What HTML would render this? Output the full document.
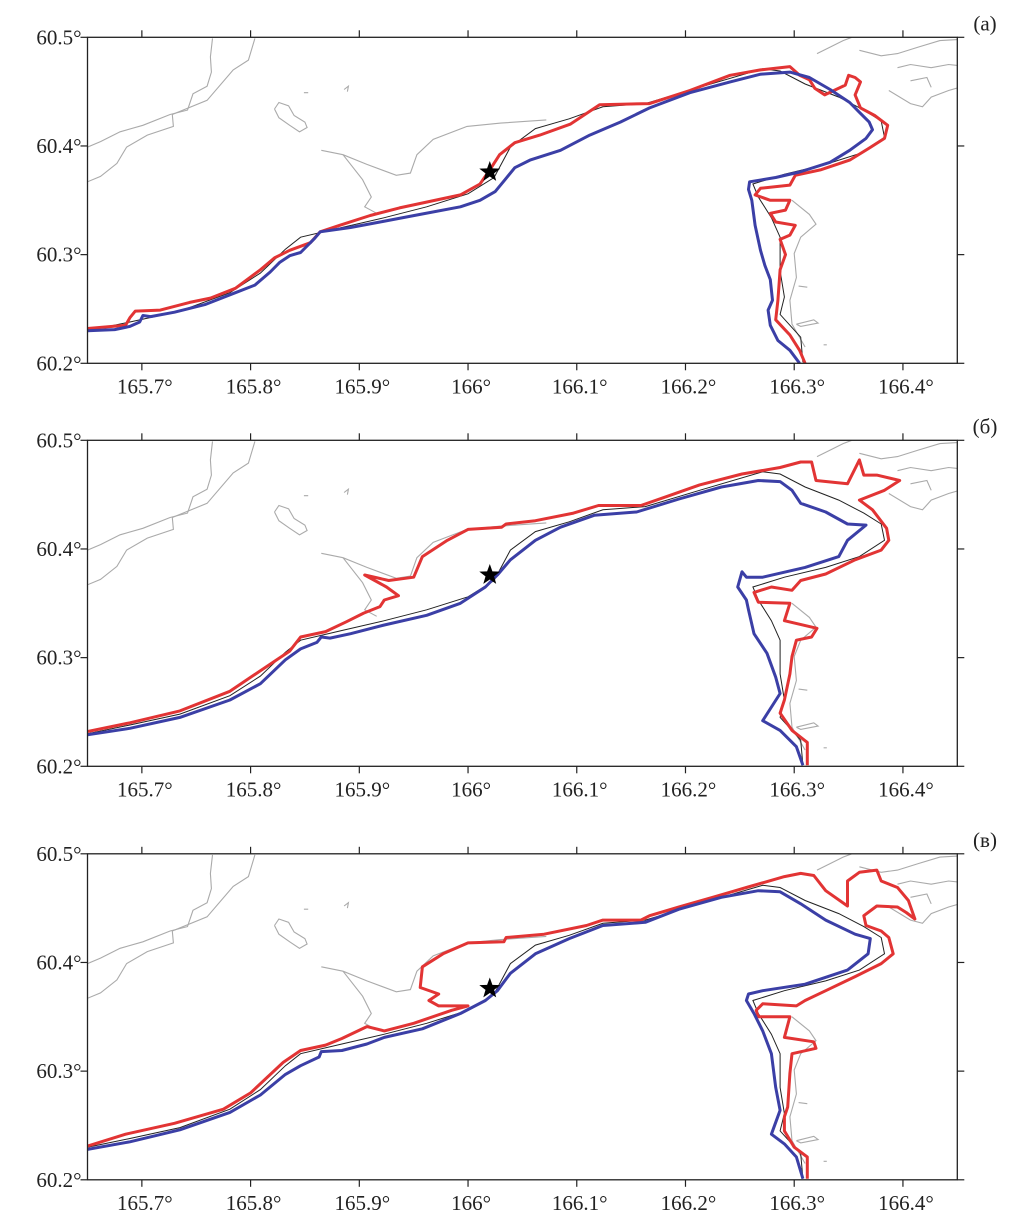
<!DOCTYPE html>
<html><head><meta charset="utf-8"><style>
body{margin:0;background:#fff}
svg{display:block}
text{font-family:"Liberation Serif","Times New Roman",serif;font-size:21px;fill:#222}
</style></head><body>
<svg id="fig" width="1030" height="1225" viewBox="0 0 1030 1225" xmlns="http://www.w3.org/2000/svg" font-family="Liberation Serif, serif"></svg>
<script>
const lonTicks=[165.7,165.8,165.9,166.0,166.1,166.2,166.3,166.4];
const lonLabels=["165.7°","165.8°","165.9°","166°","166.1°","166.2°","166.3°","166.4°"];
const latTicks=[60.2,60.3,60.4,60.5];
const latLabels=["60.2°","60.3°","60.4°","60.5°"];
const panelLabels=["(a)","(б)","(в)"];
const star=[166.02,60.376];
const coast=[[165.650,60.230],[165.689,60.238],[165.735,60.248],[165.781,60.265],[165.809,60.283],[165.832,60.305],[165.846,60.316],[165.884,60.325],[165.923,60.334],[165.962,60.344],[166.000,60.356],[166.024,60.371],[166.039,60.399],[166.062,60.416],[166.093,60.425],[166.124,60.436],[166.163,60.439],[166.213,60.454],[166.271,60.471],[166.287,60.469],[166.310,60.457],[166.341,60.445],[166.364,60.433],[166.380,60.423],[166.383,60.408],[166.360,60.393],[166.329,60.383],[166.291,60.374],[166.262,60.365],[166.267,60.353],[166.279,60.334],[166.287,60.316],[166.287,60.285],[166.291,60.261],[166.287,60.245],[166.306,60.224],[166.308,60.201]];
const land=[
[[165.650,60.399],[165.662,60.404],[165.680,60.413],[165.701,60.419],[165.726,60.429],[165.742,60.433],[165.747,60.448],[165.760,60.455],[165.764,60.468],[165.763,60.482],[165.765,60.499]],
[[165.650,60.367],[165.662,60.372],[165.677,60.384],[165.686,60.399],[165.705,60.410],[165.729,60.418],[165.728,60.429],[165.760,60.442],[165.784,60.470],[165.798,60.479],[165.804,60.499]],
[[165.822,60.434],[165.826,60.440],[165.835,60.437],[165.840,60.428],[165.850,60.422],[165.852,60.417],[165.845,60.413],[165.836,60.419],[165.826,60.426],[165.822,60.434]],
[[165.865,60.396],[165.885,60.392],[165.907,60.383],[165.934,60.373],[165.947,60.375],[165.953,60.392],[165.968,60.406],[165.999,60.418],[166.030,60.421],[166.072,60.424]],
[[165.885,60.392],[165.903,60.369],[165.911,60.353],[165.905,60.344],[165.916,60.338]],
[[165.886,60.452],[165.890,60.455],[165.889,60.450]],
[[165.849,60.449],[165.853,60.449]],
[[166.321,60.485],[166.333,60.491],[166.345,60.497],[166.353,60.500]],
[[166.360,60.488],[166.380,60.483],[166.395,60.485],[166.414,60.491],[166.434,60.497],[166.452,60.498]],
[[166.395,60.472],[166.407,60.475],[166.426,60.472],[166.442,60.475],[166.452,60.474]],
[[166.387,60.451],[166.407,60.439],[166.418,60.436],[166.426,60.445],[166.442,60.451],[166.452,60.454]],
[[166.407,60.460],[166.422,60.463],[166.426,60.454]],
[[166.298,60.350],[166.314,60.337],[166.320,60.328],[166.306,60.316],[166.300,60.301],[166.302,60.279],[166.296,60.258],[166.298,60.236],[166.310,60.215]],
[[166.304,60.271],[166.312,60.270]],
[[166.302,60.236],[166.318,60.240],[166.322,60.237],[166.306,60.234],[166.302,60.236]],
[[166.327,60.217],[166.330,60.217]]
];
const redA=[[165.650,60.232],[165.685,60.235],[165.689,60.242],[165.694,60.248],[165.717,60.249],[165.744,60.256],[165.763,60.260],[165.786,60.269],[165.809,60.286],[165.822,60.297],[165.836,60.304],[165.855,60.311],[165.864,60.321],[165.882,60.327],[165.910,60.336],[165.937,60.343],[165.965,60.349],[165.993,60.355],[166.011,60.365],[166.020,60.378],[166.029,60.392],[166.043,60.403],[166.066,60.410],[166.094,60.420],[166.121,60.438],[166.167,60.439],[166.204,60.451],[166.241,60.465],[166.269,60.470],[166.296,60.473],[166.305,60.465],[166.314,60.461],[166.319,60.453],[166.328,60.447],[166.347,60.456],[166.350,60.465],[166.356,60.463],[166.361,60.459],[166.356,60.447],[166.361,60.435],[166.374,60.428],[166.386,60.419],[166.383,60.407],[166.369,60.398],[166.351,60.387],[166.324,60.378],[166.301,60.373],[166.296,60.364],[166.269,60.361],[166.264,60.355],[166.278,60.350],[166.296,60.350],[166.292,60.341],[166.278,60.338],[166.283,60.330],[166.301,60.327],[166.296,60.318],[166.287,60.314],[166.292,60.300],[166.287,60.286],[166.285,60.258],[166.283,60.240],[166.296,60.226],[166.305,60.212],[166.310,60.200]];
const blueA=[[165.650,60.230],[165.675,60.231],[165.689,60.234],[165.698,60.238],[165.701,60.244],[165.708,60.243],[165.730,60.247],[165.758,60.254],[165.786,60.265],[165.804,60.272],[165.818,60.284],[165.827,60.293],[165.836,60.299],[165.846,60.302],[165.859,60.315],[165.864,60.321],[165.892,60.325],[165.919,60.330],[165.956,60.337],[165.993,60.344],[166.011,60.350],[166.025,60.358],[166.034,60.369],[166.043,60.380],[166.057,60.387],[166.085,60.396],[166.112,60.410],[166.140,60.422],[166.167,60.435],[166.204,60.449],[166.241,60.459],[166.269,60.466],[166.296,60.468],[166.314,60.463],[166.333,60.452],[166.351,60.440],[166.360,60.431],[166.369,60.422],[166.372,60.415],[166.366,60.407],[166.351,60.396],[166.333,60.385],[166.305,60.376],[166.283,60.371],[166.259,60.367],[166.258,60.360],[166.261,60.350],[166.264,60.327],[166.269,60.304],[166.273,60.290],[166.278,60.277],[166.280,60.258],[166.276,60.249],[166.278,60.235],[166.285,60.221],[166.296,60.212],[166.305,60.200]];
const redB=[[165.650,60.232],[165.689,60.240],[165.735,60.251],[165.781,60.269],[165.809,60.288],[165.836,60.306],[165.846,60.319],[165.869,60.324],[165.888,60.333],[165.904,60.341],[165.919,60.347],[165.923,60.353],[165.936,60.357],[165.925,60.365],[165.905,60.376],[165.927,60.371],[165.950,60.374],[165.958,60.393],[165.981,60.408],[166.000,60.418],[166.031,60.420],[166.035,60.423],[166.062,60.426],[166.097,60.433],[166.120,60.440],[166.159,60.440],[166.182,60.448],[166.213,60.459],[166.252,60.469],[166.287,60.475],[166.306,60.480],[166.316,60.480],[166.320,60.463],[166.349,60.460],[166.360,60.482],[166.364,60.468],[166.376,60.468],[166.397,60.463],[166.383,60.454],[166.360,60.445],[166.372,60.436],[166.385,60.419],[166.387,60.408],[166.380,60.399],[166.356,60.390],[166.329,60.377],[166.306,60.371],[166.298,60.362],[166.279,60.365],[166.263,60.360],[166.267,60.351],[166.296,60.350],[166.291,60.334],[166.321,60.327],[166.316,60.319],[166.302,60.316],[166.298,60.301],[166.296,60.285],[166.291,60.261],[166.287,60.249],[166.298,60.233],[166.312,60.222],[166.312,60.201]];
const blueB=[[165.650,60.229],[165.689,60.235],[165.735,60.245],[165.781,60.261],[165.809,60.276],[165.832,60.298],[165.846,60.308],[165.861,60.314],[165.865,60.319],[165.873,60.318],[165.892,60.322],[165.923,60.330],[165.962,60.339],[165.993,60.350],[166.016,60.365],[166.027,60.376],[166.039,60.390],[166.062,60.408],[166.085,60.420],[166.116,60.431],[166.155,60.434],[166.194,60.446],[166.233,60.457],[166.267,60.463],[166.287,60.462],[166.298,60.454],[166.306,60.442],[166.329,60.434],[166.349,60.423],[166.366,60.422],[166.349,60.408],[166.341,60.393],[166.310,60.383],[166.271,60.374],[166.256,60.374],[166.252,60.379],[166.248,60.365],[166.256,60.353],[166.258,60.344],[166.263,60.322],[166.275,60.304],[166.283,60.282],[166.287,60.267],[166.271,60.242],[166.287,60.233],[166.302,60.218],[166.308,60.201]];
const redC=[[165.650,60.231],[165.685,60.242],[165.730,60.252],[165.775,60.265],[165.800,60.280],[165.830,60.308],[165.846,60.319],[165.869,60.324],[165.884,60.330],[165.907,60.341],[165.923,60.337],[165.950,60.344],[165.985,60.356],[166.000,60.360],[165.973,60.360],[165.964,60.365],[165.973,60.371],[165.956,60.377],[165.958,60.396],[165.977,60.408],[166.000,60.418],[166.033,60.419],[166.035,60.423],[166.070,60.426],[166.109,60.434],[166.124,60.439],[166.159,60.439],[166.167,60.443],[166.194,60.451],[166.225,60.460],[166.256,60.469],[166.291,60.479],[166.306,60.482],[166.318,60.480],[166.329,60.466],[166.349,60.452],[166.349,60.475],[166.360,60.483],[166.376,60.485],[166.380,60.475],[166.395,60.469],[166.405,60.457],[166.411,60.440],[166.403,60.446],[166.395,60.451],[166.376,60.452],[166.364,60.443],[166.366,60.434],[166.380,60.429],[166.387,60.423],[166.391,60.408],[166.380,60.399],[166.356,60.387],[166.329,60.374],[166.310,60.365],[166.302,60.360],[166.271,60.362],[166.265,60.356],[166.267,60.350],[166.296,60.350],[166.291,60.331],[166.318,60.327],[166.320,60.321],[166.298,60.316],[166.296,60.298],[166.294,60.267],[166.291,60.258],[166.291,60.245],[166.300,60.230],[166.312,60.221],[166.312,60.201]];
const blueC=[[165.650,60.228],[165.689,60.235],[165.735,60.246],[165.781,60.262],[165.809,60.278],[165.832,60.297],[165.846,60.305],[165.863,60.313],[165.865,60.318],[165.884,60.319],[165.907,60.325],[165.923,60.331],[165.958,60.339],[165.993,60.353],[166.016,60.365],[166.027,60.374],[166.039,60.390],[166.062,60.408],[166.093,60.422],[166.124,60.434],[166.163,60.437],[166.194,60.449],[166.233,60.460],[166.267,60.466],[166.287,60.465],[166.306,60.454],[166.329,60.439],[166.356,60.426],[166.370,60.422],[166.368,60.408],[166.349,60.393],[166.310,60.380],[166.271,60.374],[166.258,60.371],[166.256,60.365],[166.263,60.353],[166.271,60.337],[166.279,60.316],[166.283,60.285],[166.287,60.264],[166.279,60.242],[166.291,60.233],[166.302,60.221],[166.308,60.201]];
const reds=[redA,redB,redC], blues=[blueA,blueB,blueC];

const NS="http://www.w3.org/2000/svg";
const svg=document.getElementById('fig');
const L=87.5,R=957.3,H=326,tops=[37.3,440.3,853.8];
const lon0=165.65,lon1=166.45,lat0=60.2,lat1=60.5;
function xs(lon){return L+(lon-lon0)/(lon1-lon0)*(R-L);}
function ys(lat,top){return top+(lat1-lat)/(lat1-lat0)*H;}
function mk(tag,attrs,parent){const e=document.createElementNS(NS,tag);for(const k in attrs)e.setAttribute(k,attrs[k]);parent.appendChild(e);return e;}
function pathD(pts,top){return pts.map((p,i)=>(i?'L':'M')+xs(p[0]).toFixed(1)+','+ys(p[1],top).toFixed(1)).join('');}
const FONT='Liberation Serif, Times New Roman, serif';

tops.forEach((top,pi)=>{
  const g=mk('g',{},svg);
  
  
  const cp=mk('clipPath',{id:'cp'+pi},g);
  mk('rect',{x:L,y:top,width:R-L,height:H},cp);
  const plot=mk('g',{'clip-path':'url(#cp'+pi+')'},g);
  land.forEach((ln,li)=>{
    const p=mk('path',{d:pathD(ln,top),fill:'none',stroke:'#aaaaaa','stroke-width':1.1},plot);
    
    
  });
  const c=mk('path',{d:pathD(coast,top),fill:'none',stroke:'#222','stroke-width':1},plot);
  
  
  const r=mk('path',{d:pathD(reds[pi],top),fill:'none',stroke:'#e23434','stroke-width':3,'stroke-linejoin':'round'},plot);
  
  
  const b=mk('path',{d:pathD(blues[pi],top),fill:'none',stroke:'#3b3fa6','stroke-width':3,'stroke-linejoin':'round'},plot);
  
  
  const sx=xs(star[0]),sy=ys(star[1],top);
  let sp='';for(let k=0;k<10;k++){const a=-Math.PI/2+k*Math.PI/5,rr=k%2?4.5:11;sp+=(k?'L':'M')+(sx+rr*Math.cos(a)).toFixed(1)+','+(sy+rr*Math.sin(a)).toFixed(1);}
  const st=mk('path',{d:sp+'Z',fill:'#000'},g);
  
  
  const fr=mk('rect',{x:L,y:top,width:R-L,height:H,fill:'none',stroke:'#222','stroke-width':1.3},g);
  
  
  lonTicks.forEach((v,i)=>{
    const x=xs(v);
    mk('line',{x1:x,x2:x,y1:top-7,y2:top,stroke:'#222','stroke-width':1.2},g);
    mk('line',{x1:x,x2:x,y1:top+H,y2:top+H+7,stroke:'#222','stroke-width':1.2},g);
    const t=mk('text',{x:x+3,y:top+H+30,'text-anchor':'middle','font-family':FONT,'font-size':22},g);
    t.textContent=lonLabels[i];
    
    
  });
  latTicks.forEach((v,i)=>{
    const y=ys(v,top);
    mk('line',{x1:L-7,x2:L,y1:y,y2:y,stroke:'#222','stroke-width':1.2},g);
    mk('line',{x1:R,x2:R+7,y1:y,y2:y,stroke:'#222','stroke-width':1.2},g);
    const t=mk('text',{x:L-6,y:y+7,'text-anchor':'end','font-family':FONT,'font-size':22},g);
    t.textContent=latLabels[i];
    
    
  });
  const pl=mk('text',{x:985,y:top-7,'text-anchor':'middle','font-family':FONT,'font-size':21},g);
  pl.textContent=panelLabels[pi];
  
  
});
</script>
</body></html>
